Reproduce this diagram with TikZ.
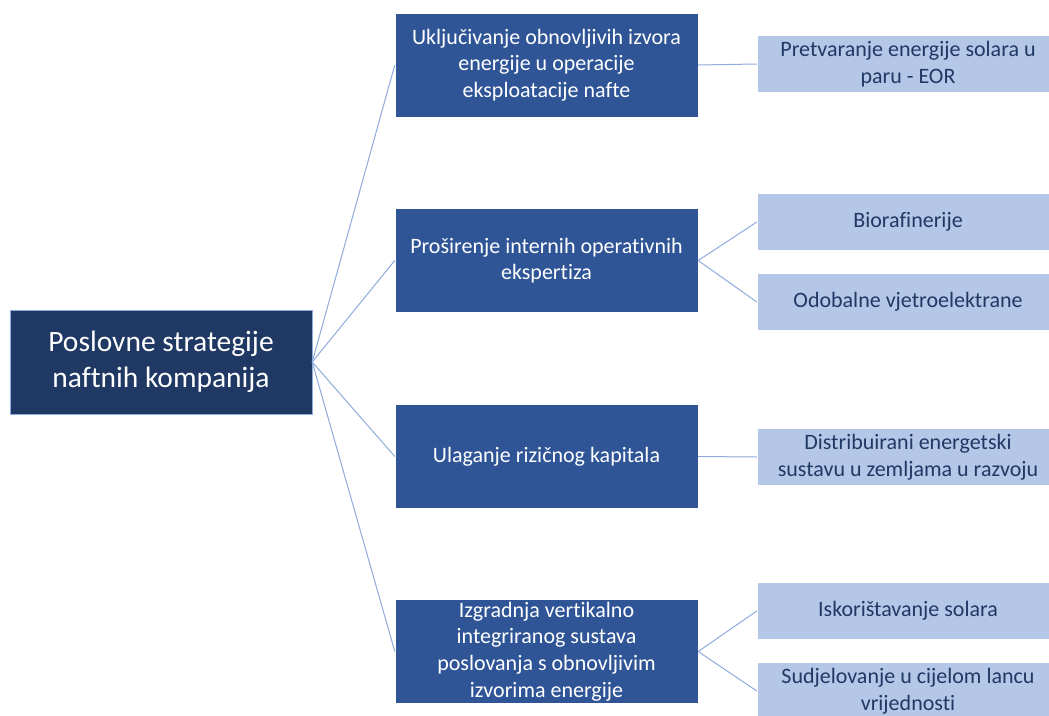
\documentclass[tikz,border=0pt]{standalone}
\usepackage{fontspec}
\setmainfont{Carlito}[Ligatures=NoCommon]
\usetikzlibrary{positioning}
\definecolor{navy}{HTML}{203864}
\definecolor{midblue}{HTML}{2F5597}
\definecolor{paleblue}{HTML}{B4C7E7}
\definecolor{linkblue}{HTML}{8FAADC}
\tikzset{rt/.style={fill=navy,draw=linkblue,text=white,align=center,minimum width=302pt,minimum height=104pt,inner sep=0pt,font=\fontsize{29.5}{35.5}\selectfont}}
\tikzset{bx/.style={fill=midblue,draw=white,text=white,align=center,minimum width=303pt,minimum height=104pt,inner sep=0pt,font=\fontsize{22}{26.7}\selectfont}}
\tikzset{lf/.style={fill=paleblue,draw=white,text=navy,align=center,minimum width=302pt,minimum height=57pt,inner sep=0pt,font=\fontsize{22}{27}\selectfont}}
\tikzset{ln/.style={draw=linkblue,line width=1pt}}
\begin{document}
\begin{tikzpicture}[x=1pt,y=-1pt]
            \useasboundingbox (0,0) rectangle (1049,715);
            \node [rt] (A) at (161,362) {Poslovne strategije\\naftnih kompanija};
            % prva razina
            \node [bx] (B1) at (546.5,65) {Uključivanje obnovljivih izvora\\energije u operacije\\eksploatacije nafte};
            \node [bx] (B2) at (546.5,260.5) {Proširenje internih operativnih\\ekspertiza};
            \node [bx] (B3) at (546.5,456.5) {Ulaganje rizičnog kapitala};
            \node [bx] (B4) at (546.5,651.5) {Izgradnja vertikalno\\integriranog sustava\\poslovanja s obnovljivim\\izvorima energije};
            % druga razina
            \node [lf] (C1) at (908,64) {Pretvaranje energije solara u\\paru - EOR};
            \node [lf] (C2) at (908,222) {Biorafinerije};
            \node [lf] (C3) at (908,302) {Odobalne vjetroelektrane};
            \node [lf] (C4) at (908,457) {Distribuirani energetski\\sustavu u zemljama u razvoju};
            \node [lf] (C5) at (908,611) {Iskorištavanje solara};
            \node [lf] (C6) at (908,691) {Sudjelovanje u cijelom lancu\\vrijednosti};
            \foreach \b in {B1,B2,B3,B4}
              \draw [ln] (A.east) -- (\b.west);
            \draw [ln] (B1.east) -- (C1.west);
            \draw [ln] (B2.east) -- (C2.west);
            \draw [ln] (B2.east) -- (C3.west);
            \draw [ln] (B3.east) -- (C4.west);
            \draw [ln] (B4.east) -- (C5.west);
            \draw [ln] (B4.east) -- (C6.west);
          \end{tikzpicture}
\end{document}
